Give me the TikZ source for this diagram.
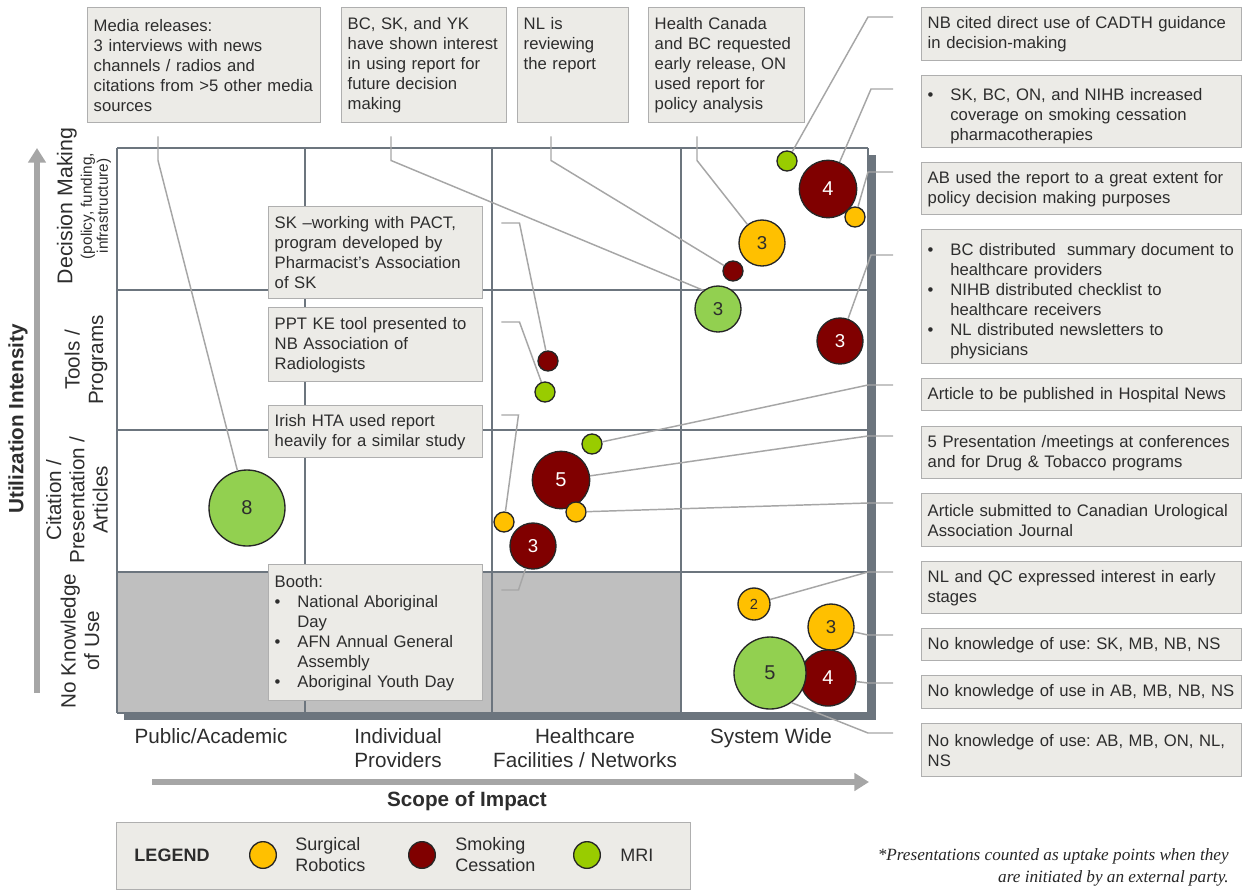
\documentclass[tikz,border=0pt]{standalone}
\usepackage{fontspec}
\setmainfont{Liberation Sans}
\newfontfamily\notefont{Liberation Serif}
\usetikzlibrary{calc,arrows.meta}
\frenchspacing

\definecolor{boxfill}{RGB}{236,235,231}
\definecolor{boxline}{RGB}{175,175,175}
\definecolor{gridline}{RGB}{108,117,126}
\definecolor{cellgray}{RGB}{191,191,191}
\definecolor{linkgray}{RGB}{166,166,166}
\definecolor{txt}{RGB}{45,45,45}
\definecolor{robotics}{RGB}{255,192,0}
\definecolor{smoking}{RGB}{128,0,0}
\definecolor{mribig}{RGB}{146,208,80}
\definecolor{mrismall}{RGB}{153,204,0}

\newcommand{\bulletline}[1]{\par\hangindent=17pt\hangafter=1\noindent\makebox[17pt][l]{\textbullet}#1\par}

\begin{document}
\begin{tikzpicture}[x=0.75pt,y=0.75pt,yscale=-1,xscale=1,
    note/.style={draw=boxline,line width=1.1pt,fill=boxfill,anchor=north west,align=left,
        inner xsep=4.5pt,inner ysep=3pt,text=txt,font=\fontsize{12.5}{15}\selectfont},
    topnote/.style={note,minimum height=86.25pt},
    sidenote/.style={note,minimum width=240pt,text width=231pt},
    plotnote/.style={note,minimum width=160.5pt,text width=151.5pt},
    bubble/.style={circle,draw=black!85,line width=1pt,inner sep=0pt,text=txt},
    rob/.style={bubble,fill=robotics},
    smk/.style={bubble,fill=smoking,text=white},
    mri/.style={bubble,fill=mribig},
    dot/.style={minimum size=15pt},
    num/.style={font=\fontsize{#1}{#1}\selectfont},
    link/.style={draw=linkgray,line width=1.1pt},
    axis/.style={draw=linkgray,line width=4.5pt,-{Triangle[length=11pt,width=13pt]}},
    scalelabel/.style={text=txt,align=center,font=\fontsize{15.5}{17.5}\selectfont},
]
\useasboundingbox (0,0) rectangle (1244,893);

%Shadow and plot area
\fill[gridline] (124,155) rectangle (876,720);
\fill[white] (117,148) rectangle (868,713);
\fill[cellgray] (117,572) rectangle (681,713);
\foreach \gx in {117,305,492,681,868}
    \draw[gridline,line width=1.2pt] (\gx,148) -- (\gx,713);
\foreach \gy in {148,290,430,572,713}
    \draw[gridline,line width=1.2pt] (117,\gy) -- (868,\gy);

%Axes
\draw[axis] (37,693) -- (37,148);
\draw[axis] (152,782) -- (869,782);
\node[text=txt,font=\bfseries\fontsize{15.5}{17}\selectfont,rotate=90] (yname) at (18,419) {Utilization Intensity};
\node[text=txt,font=\bfseries\fontsize{15.5}{17}\selectfont] (xname) at (467,801) {Scope of Impact};

% Row labels
\node[scalelabel,rotate=90,font=\fontsize{11.5}{12}\selectfont] (rowdecision) at (84,206)
    {{\fontsize{16}{16}\selectfont Decision Making}\\[2.5pt](policy, funding,\\infrastructure)};
\node[scalelabel,rotate=90] (rowtools) at (86,360) {Tools /\\Programs};
\node[scalelabel,rotate=90] (rowcitation) at (77,500) {Citation /\\Presentation /\\Articles};
\node[scalelabel,rotate=90] (rownone) at (80,641) {No Knowledge\\of Use};

% Column labels
\node[scalelabel,anchor=north] (colpublic) at (211,724) {Public/Academic};
\node[scalelabel,anchor=north] (colproviders) at (398,724) {Individual\\Providers};
\node[scalelabel,anchor=north] (colfacilities) at (585,724) {Healthcare\\Facilities / Networks};
\node[scalelabel,anchor=north] (colsystem) at (771,724) {System Wide};

% Top notes
\node[topnote,minimum width=174.75pt,text width=165.75pt] (media) at (87,7)
    {Media releases:\\3 interviews with news\\channels / radios and\\citations from >5 other media\\sources};
\node[topnote,minimum width=123.75pt,text width=114.75pt] (interest) at (341,7)
    {BC, SK, and YK\\have shown interest\\in using report for\\future decision\\making};
\node[topnote,minimum width=83.25pt,text width=74.25pt,text depth=62pt] (review) at (517,7)
    {NL is\\reviewing\\the report};
\node[topnote,minimum width=117pt,text width=108pt] (healthcan) at (648,7)
    {Health Canada\\and BC requested\\early release, ON\\used report for\\policy analysis};

% Side notes
\node[sidenote,minimum height=39.75pt] (cadth) at (921,7)
    {NB cited direct use of CADTH guidance\\in decision-making};
\node[sidenote,minimum height=54pt] (coverage) at (921,75)
    {\bulletline{SK, BC, ON, and NIHB increased\newline coverage on smoking cessation\newline pharmacotherapies}};
\node[sidenote,minimum height=39pt] (albertause) at (921,162)
    {AB used the report to a great extent for\\policy decision making purposes};
\node[sidenote,minimum height=100.5pt] (distributed) at (921,229)
    {\bulletline{BC distributed \ summary document to\newline healthcare providers}%
     \bulletline{NIHB distributed checklist to\newline healthcare receivers}%
     \bulletline{NL distributed newsletters to\newline physicians}};
\node[sidenote,minimum height=24pt] (hospnews) at (921,378)
    {Article to be published in Hospital News};
\node[sidenote,minimum height=39pt] (meetings) at (921,426)
    {5 Presentation /meetings at conferences\\and for Drug \& Tobacco programs};
\node[sidenote,minimum height=39.75pt] (urojournal) at (921,493)
    {Article submitted to Canadian Urological\\Association Journal};
\node[sidenote,minimum height=39pt] (earlyint) at (921,561)
    {NL and QC expressed interest in early\\stages};
\node[sidenote,minimum height=24pt] (noneA) at (921,628)
    {No knowledge of use: SK, MB, NB, NS};
\node[sidenote,minimum height=24.75pt] (noneB) at (921,675)
    {No knowledge of use in AB, MB, NB, NS};
\node[sidenote,minimum height=39.75pt] (noneC) at (921,723)
    {No knowledge of use: AB, MB, ON, NL,\\NS};

% Notes inside the plot
\node[plotnote,minimum height=69pt] (pact) at (268,206)
    {SK –working with PACT,\\program developed by\\Pharmacist’s Association\\of SK};
\node[plotnote,minimum height=55.5pt] (pptke) at (268,307)
    {PPT KE tool presented to\\NB Association of\\Radiologists};
\node[plotnote,minimum height=39pt] (irish) at (268,405)
    {Irish HTA used report\\heavily for a similar study};
\node[plotnote,minimum height=102pt] (booth) at (268,564)
    {Booth:\bulletline{National Aboriginal\newline Day}%
     \bulletline{AFN Annual General\newline Assembly}%
     \bulletline{Aboriginal Youth Day}};

%Shape: Circles
\node[mri,minimum size=57pt,num=15] (mriMedia) at (247,508) {8};
\node[mri,dot,fill=mrismall] (mriCadth) at (787,161) {};
\node[smk,minimum size=43pt,num=15] (smkCoverage) at (828,189) {4};
\node[rob,dot] (robAlberta) at (855,217) {};
\node[rob,minimum size=34.5pt,num=14] (robHealthcan) at (762,243) {3};
\node[smk,dot] (smkReview) at (733,271) {};
\node[mri,minimum size=34.5pt,num=14] (mriInterest) at (718,309) {3};
\node[smk,minimum size=34.5pt,num=14] (smkDistributed) at (840,341) {3};
\node[smk,dot] (smkPact) at (548,361) {};
\node[mri,dot,fill=mrismall] (mriPptke) at (545,392) {};
\node[mri,dot,fill=mrismall] (mriNews) at (592,444) {};
\node[smk,minimum size=43pt,num=15] (smkMeetings) at (561,480) {5};
\node[rob,dot] (robJournal) at (576,512) {};
\node[rob,dot] (robIrish) at (504,522) {};
\node[smk,minimum size=34.5pt,num=14] (smkBooth) at (533,546) {3};
\node[rob,minimum size=24pt,num=11] (robEarly) at (754,604) {2};
\node[rob,minimum size=34.5pt,num=14] (robNone) at (831,627) {3};
\node[smk,minimum size=42pt,num=15] (smkNone) at (828,678) {4};
\node[mri,minimum size=54pt,num=15] (mriNone) at (770,673) {5};

%Straight Lines
\draw[link] ($(media.south west)+(71,13)$) -- ++(0,24) -- (mriMedia);
\draw[link] ($(interest.south west)+(50,13)$) -- ++(0,24) -- (mriInterest.128);
\draw[link] ($(review.south west)+(34,13)$) -- ++(0,24) -- (smkReview);
\draw[link] ($(healthcan.south west)+(49,13)$) -- ++(0,24) -- (robHealthcan);

\draw[link] ($(cadth.north west)+(-28,10)$) -- ++(-25,0) -- (mriCadth);
\draw[link] ($(coverage.north west)+(-28,14)$) -- ++(-22,0) -- (smkCoverage);
\draw[link] ($(albertause.north west)+(-28,10)$) -- ++(-25,0) -- (robAlberta);
\draw[link] ($(distributed.north west)+(-28,26)$) -- ++(-22,0) -- (smkDistributed);
\draw[link] ($(hospnews.north west)+(-28,7)$) -- ++(-25,0) -- (mriNews);
\draw[link] ($(meetings.north west)+(-28,10)$) -- ++(-25,0) -- (smkMeetings);
\draw[link] ($(urojournal.north west)+(-28,10)$) -- ++(-25,0) -- (robJournal);
\draw[link] ($(earlyint.north west)+(-28,11)$) -- ++(-25,0) -- (robEarly);
\draw[link] ($(noneA.north west)+(-28,7)$) -- ++(-25,0) -- (robNone);
\draw[link] ($(noneB.north west)+(-28,8)$) -- ++(-25,0) -- (smkNone);
\draw[link] ($(noneC.north west)+(-28,10)$) -- ++(-25,0) -- (mriNone.-54);

\draw[link] ($(pact.north east)+(18,17)$) -- ++(18,0) -- (smkPact);
\draw[link] ($(pptke.north east)+(18,15)$) -- ++(18,0) -- (mriPptke);
\draw[link] ($(irish.north east)+(18,10)$) -- ++(17,0) -- (robIrish);
\draw[link] ($(booth.north east)+(18,26)$) -- ++(17,0) -- (smkBooth);

% Legend
\node[note,minimum width=430.5pt,minimum height=50pt] (legend) at (116,822) {};
\node[text=txt,font=\bfseries\fontsize{13.5}{16}\selectfont] (legendtitle) at (172,855) {LEGEND};
\node[rob,minimum size=20pt] (keyrob) at (263,855) {};
\node[text=txt,align=left,anchor=west,inner sep=0pt,font=\fontsize{13.5}{15.75}\selectfont] (keyrobtext) at (295,855) {Surgical\\Robotics};
\node[smk,minimum size=20pt] (keysmk) at (422,855) {};
\node[text=txt,align=left,anchor=west,inner sep=0pt,font=\fontsize{13.5}{15.75}\selectfont] (keysmktext) at (455,855) {Smoking\\Cessation};
\node[mri,fill=mrismall,minimum size=20pt] (keymri) at (587,855) {};
\node[text=txt,align=left,anchor=west,inner sep=0pt,font=\fontsize{13.5}{15.75}\selectfont] (keymritext) at (620,855) {MRI};

% Text Node
\node[text=black!85,align=right,anchor=north east,inner sep=0pt,font=\notefont\itshape\fontsize{12.9}{17}\selectfont] (footnote) at (1229,848)
    {*Presentations counted as uptake points when they\\are initiated by an external party.};
\end{tikzpicture}
\end{document}
